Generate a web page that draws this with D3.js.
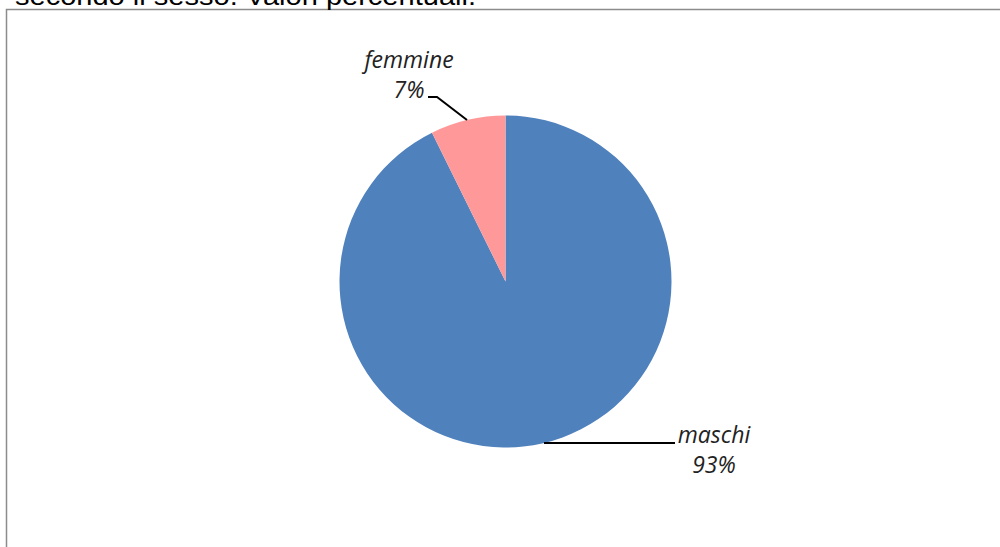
<!DOCTYPE html>
<html><head><meta charset="utf-8">
<script src="https://cdn.jsdelivr.net/npm/d3@7"></script>
<style>body{margin:0;background:#fff;}svg{display:block;}</style>
</head><body>
<svg id="chart" width="1000" height="547"></svg>
<script>
const titleText = "secondo il sesso. Valori percentuali.";
const categories = ["maschi", "femmine"];
const values = [92.7, 7.3];
const valueLabels = ["93%", "7%"];
const colors = ["#4F81BD", "#FF9999"];

const svg = d3.select("#chart");
svg.append("rect").attr("x",6.5).attr("y",9.5).attr("width",1100).attr("height",600)
  .attr("fill","#fff").attr("stroke","#8c8c8c").attr("stroke-width",1.5);

const title = svg.append("text").attr("x",15).attr("y",5).attr("font-family","Liberation Sans, Arial")
  .attr("font-size",25).attr("fill","#000").text(titleText);
const tw = title.node().getComputedTextLength();
if (Math.abs(tw-461) > 4) title.attr("textLength",461).attr("lengthAdjust","spacingAndGlyphs");

const cx = 505.5, cy = 281.5, r = 166;
const data = categories.map((c,i)=>({cat:c, v:values[i], lab:valueLabels[i], col:colors[i]}));
const pie = d3.pie().value(d=>d.v).sort(null);
const arc = d3.arc().innerRadius(0).outerRadius(r);
const g = svg.append("g").attr("transform",`translate(${cx},${cy})`);
const arcs = pie(data);
g.selectAll("path").data(arcs).join("path").attr("d",arc).attr("fill",d=>d.data.col);

const labelPos = {
  "maschi": {lx: 714, ly: 443, line: [[544,443],[675,443]]},
  "femmine": {lx: 409, ly: 68, line: [[428,97],[437,97],[467,120]]}
};
arcs.forEach(a=>{
  const p = labelPos[a.data.cat];
  svg.append("path").attr("d", d3.line()(p.line)).attr("fill","none")
    .attr("stroke","#000").attr("stroke-width",2);
  const t = svg.append("text").attr("text-anchor","middle").attr("font-family","'Open Sans', sans-serif")
    .attr("font-style","italic").attr("font-size",23).attr("fill","#222");
  t.append("tspan").attr("x",p.lx).attr("y",p.ly).text(a.data.cat);
  t.append("tspan").attr("x",p.lx).attr("y",p.ly+30).text(a.data.lab);
});
</script>
</body></html>
